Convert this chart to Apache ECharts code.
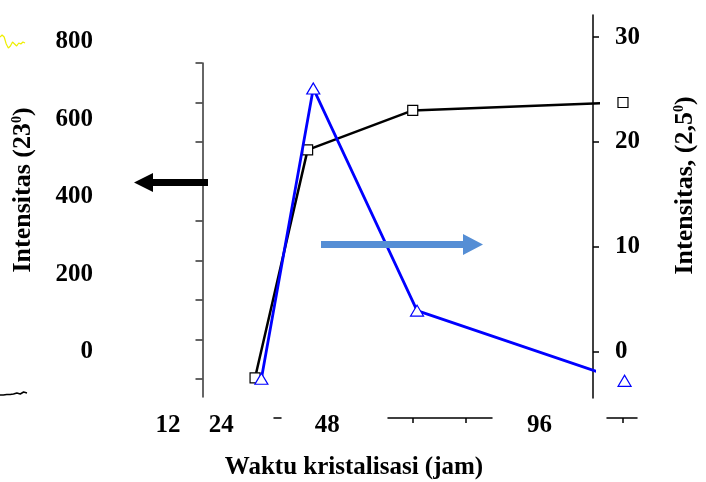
<!DOCTYPE html>
<html><head><meta charset="utf-8">
<script src="https://cdn.jsdelivr.net/npm/echarts@6/dist/echarts.min.js"></script>
<style>html,body{margin:0;padding:0;background:#fff}#c{width:706px;height:482px}</style>
</head><body><div id="c"></div>
<script>
// ---- data ----
const hours = [12, 24, 48, 96];
const intensity23 = [3, 580, 680, 700];          // left axis (black squares)
const intensity25 = [-2.6, 25.1, 3.9, -2.8];     // right axis (blue triangles)
const xTickLabels = [12, 24, 48, 96];
const xAxisTicks = [48, 60, 96];
const leftTickLabels = [0, 200, 400, 600, 800];
const leftTicks = [0, 100, 200, 300, 400, 500, 600, 700, 800];
const rightTickLabels = [0, 10, 20, 30];
const yellowTrace = [13, 15, 13, 6, 2, 4, 8, 6, 4, 7, 6, 8, 7];
const blackTrace = [2, 2, 2.5, 2.5, 3, 4, 3, 5, 4];

// ---- layout ----
const FONT = 'Liberation Serif';
const X0 = 202.5, PXH = 4.38, RX = 598;
const LBL_PXH = 4.423;
const txt = (size) => ({fontFamily: FONT, fontWeight: 'bold', fontSize: size, color: '#000'});
const supRich = {sup: {fontFamily: FONT, fontWeight: 'bold', fontSize: 14, color: '#000', verticalAlign: 'top'}};

const segs = [[274, 281], [388, 492], [607, 637]];

const grids = [
  {left: X0, top: 63, width: RX - X0, height: 334},          // 0 black
  {left: X0 + 7, top: 15, width: RX - X0 - 7, height: 383},  // 1 blue
  {left: 101, top: 42, width: 10, height: 310},               // 2 left labels
  {left: 115, top: 400, width: 478, height: 5},               // 3 x labels
  {left: 0, top: 33, width: 25, height: 17},                  // 4 yellow trace
  {left: 0, top: 390, width: 27, height: 7}                   // 5 black trace
];
segs.forEach(s => grids.push({left: s[0], top: 413, width: s[1] - s[0], height: 5}));

const xAxes = [
  {gridIndex: 0, type: 'value', min: 0, max: (RX - X0) / PXH, show: false},
  {gridIndex: 1, type: 'value', min: 0, max: (RX - X0 - 7) / PXH, show: false},
  {gridIndex: 2, type: 'value', show: false},
  {gridIndex: 3, type: 'value', min: 0, max: 478 / LBL_PXH,
   axisLine: {show: false}, axisTick: {show: false}, splitLine: {show: false},
   axisLabel: {customValues: xTickLabels, margin: 8, ...txt(25)},
   name: 'Waktu kristalisasi (jam)', nameLocation: 'middle', nameGap: 50,
   nameTextStyle: txt(25)},
  {gridIndex: 4, type: 'category', boundaryGap: false, show: false, data: yellowTrace.map((_, i) => i)},
  {gridIndex: 5, type: 'category', boundaryGap: false, show: false, data: blackTrace.map((_, i) => i)}
];
segs.forEach((s, k) => {
  const mn = (s[0] - X0) / PXH, mx = (s[1] - X0) / PXH;
  xAxes.push({gridIndex: 6 + k, type: 'value', min: mn, max: mx,
    axisLine: {show: true, onZero: false, lineStyle: {color: '#000', width: 1.5}},
    axisTick: {show: true, customValues: xAxisTicks.filter(v => v >= mn && v <= mx), length: 5, lineStyle: {color: '#000', width: 1.5}},
    axisLabel: {show: false}, splitLine: {show: false}});
});

const yAxes = [
  {gridIndex: 0, type: 'value', position: 'left', min: -(397 - 379) / 0.395, max: 800,
   axisLine: {show: true, onZero: false, lineStyle: {color: '#333', width: 1.5}},
   axisTick: {show: true, customValues: leftTicks, length: 7, lineStyle: {color: '#333', width: 1.5}},
   axisLabel: {show: false}, splitLine: {show: false}},
  {gridIndex: 1, type: 'value', position: 'right', min: -(398 - 351.5) / 10.48, max: (351.5 - 15) / 10.48,
   axisLine: {show: true, onZero: false, lineStyle: {color: '#000', width: 1.5}},
   axisTick: {show: true, customValues: rightTickLabels, length: 6, lineStyle: {color: '#000', width: 1.5}},
   axisLabel: {customValues: rightTickLabels, margin: 22, ...txt(25)},
   splitLine: {show: false},
   name: 'Intensitas, (2,5{sup|0})', nameLocation: 'middle', nameGap: 79,
   nameTextStyle: {...txt(26), rich: supRich, padding: [0, 0, 0, 42]}},
  {gridIndex: 2, type: 'value', position: 'left', min: 0, max: 800,
   axisLine: {show: false}, axisTick: {show: false}, splitLine: {show: false},
   axisLabel: {customValues: leftTickLabels, margin: 8, ...txt(25)},
   name: 'Intensitas (23{sup|0})', nameLocation: 'middle', nameGap: 65,
   nameTextStyle: {...txt(26), rich: supRich, padding: [0, 0, 0, 14]}},
  {gridIndex: 3, type: 'value', show: false},
  {gridIndex: 4, type: 'value', min: 0, max: 17, show: false},
  {gridIndex: 5, type: 'value', min: 0, max: 7, show: false}
];
segs.forEach((s, k) => yAxes.push({gridIndex: 6 + k, type: 'value', show: false}));

const option = {
  animation: false,
  backgroundColor: '#fff',
  grid: grids,
  xAxis: xAxes,
  yAxis: yAxes,
  series: [
    {type: 'line', xAxisIndex: 0, yAxisIndex: 0, clip: false, z: 3,
     data: hours.map((h, i) => [h, intensity23[i]]),
     symbol: 'rect', symbolSize: 10,
     lineStyle: {color: '#000', width: 2.5},
     itemStyle: {color: '#fff', borderColor: '#000', borderWidth: 1.2}},
    {type: 'line', xAxisIndex: 1, yAxisIndex: 1, clip: false, z: 4,
     data: hours.map((h, i) => [h, intensity25[i]]),
     symbol: 'triangle', symbolSize: [13, 11],
     lineStyle: {color: '#0000ff', width: 2.8},
     itemStyle: {color: '#fff', borderColor: '#0000ff', borderWidth: 1.2}},
    {type: 'line', xAxisIndex: 4, yAxisIndex: 4, data: yellowTrace, symbol: 'none',
     lineStyle: {color: '#eeee00', width: 1.2}},
    {type: 'line', xAxisIndex: 5, yAxisIndex: 5, data: blackTrace, symbol: 'none',
     lineStyle: {color: '#000', width: 1.5}}
  ],
  graphic: [
    {type: 'polygon', z: 10, shape: {points: [[208, 179], [153, 179], [153, 173], [134, 182.5], [153, 192], [153, 186], [208, 186]]},
     style: {fill: '#000'}},
    {type: 'polygon', z: 10, shape: {points: [[321, 241], [463, 241], [463, 234], [483, 244.5], [463, 255], [463, 248], [321, 248]]},
     style: {fill: '#558ed5'}}
  ]
};
echarts.init(document.getElementById('c')).setOption(option);
</script>
</body></html>
